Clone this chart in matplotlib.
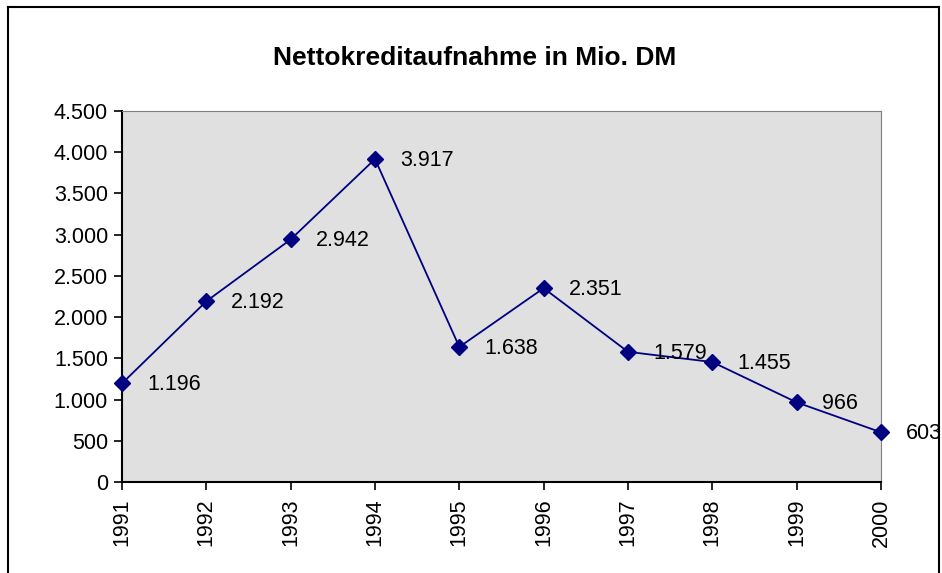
import matplotlib
matplotlib.use("Agg")
import matplotlib.pyplot as plt
from matplotlib.ticker import FuncFormatter

plt.rcParams['font.family'] = ['Liberation Sans', 'DejaVu Sans']

# Daten
jahre = [1991, 1992, 1993, 1994, 1995, 1996, 1997, 1998, 1999, 2000]
kredit = [1196, 2192, 2942, 3917, 1638, 2351, 1579, 1455, 966, 603]


def de_format(v, pos=None):
    # deutsche Tausendertrennung
    return f"{int(round(v)):,}".replace(",", ".")


fig = plt.figure(figsize=(9.42, 5.73), dpi=100)
ax = fig.add_axes([122 / 942, 1 - 482 / 573, (881 - 122) / 942, (482 - 111) / 573])
ax.set_facecolor("#e0e0e0")

ax.plot(jahre, kredit, color="#000080", linewidth=1.3, marker="D",
        markersize=8.5, markerfacecolor="#000080", markeredgecolor="#000080",
        clip_on=False, zorder=3)

for j, k in zip(jahre, kredit):
    ax.annotate(de_format(k), (j, k), xytext=(18, -1), textcoords="offset points",
                ha="left", va="center", fontsize=15.5, color="black",
                annotation_clip=False, zorder=4)

ax.set_xlim(1991, 2000)
ax.set_ylim(0, 4500)
ax.set_xticks(jahre)
ax.set_xticklabels([str(j) for j in jahre], rotation=90, fontsize=15.5)
ax.set_yticks(range(0, 4501, 500))
ax.yaxis.set_major_formatter(FuncFormatter(de_format))
ax.tick_params(axis="y", labelsize=15.5, direction="out", length=6, width=1.2, pad=4)
ax.tick_params(axis="x", direction="out", length=6, width=1.2, pad=6)

ax.spines["left"].set_color("black")
ax.spines["left"].set_linewidth(1.5)
ax.spines["bottom"].set_color("black")
ax.spines["bottom"].set_linewidth(1.5)
ax.spines["top"].set_color("#808080")
ax.spines["right"].set_color("#808080")

fig.text(475 / 942, 1 - 58 / 573, "Nettokreditaufnahme in Mio. DM",
         ha="center", va="center", fontsize=19, fontweight="bold")

# Rahmen um das Diagramm (unten offen)
fig.add_artist(plt.Line2D([8 / 942, 8 / 942], [0, 1 - 7 / 573], transform=fig.transFigure,
                          color="black", linewidth=1.5))
fig.add_artist(plt.Line2D([8 / 942, 939 / 942], [1 - 7 / 573, 1 - 7 / 573],
                          transform=fig.transFigure, color="black", linewidth=1.5))
fig.add_artist(plt.Line2D([939 / 942, 939 / 942], [0, 1 - 7 / 573], transform=fig.transFigure,
                          color="black", linewidth=1.5))

fig.savefig("out.png", dpi=100)
